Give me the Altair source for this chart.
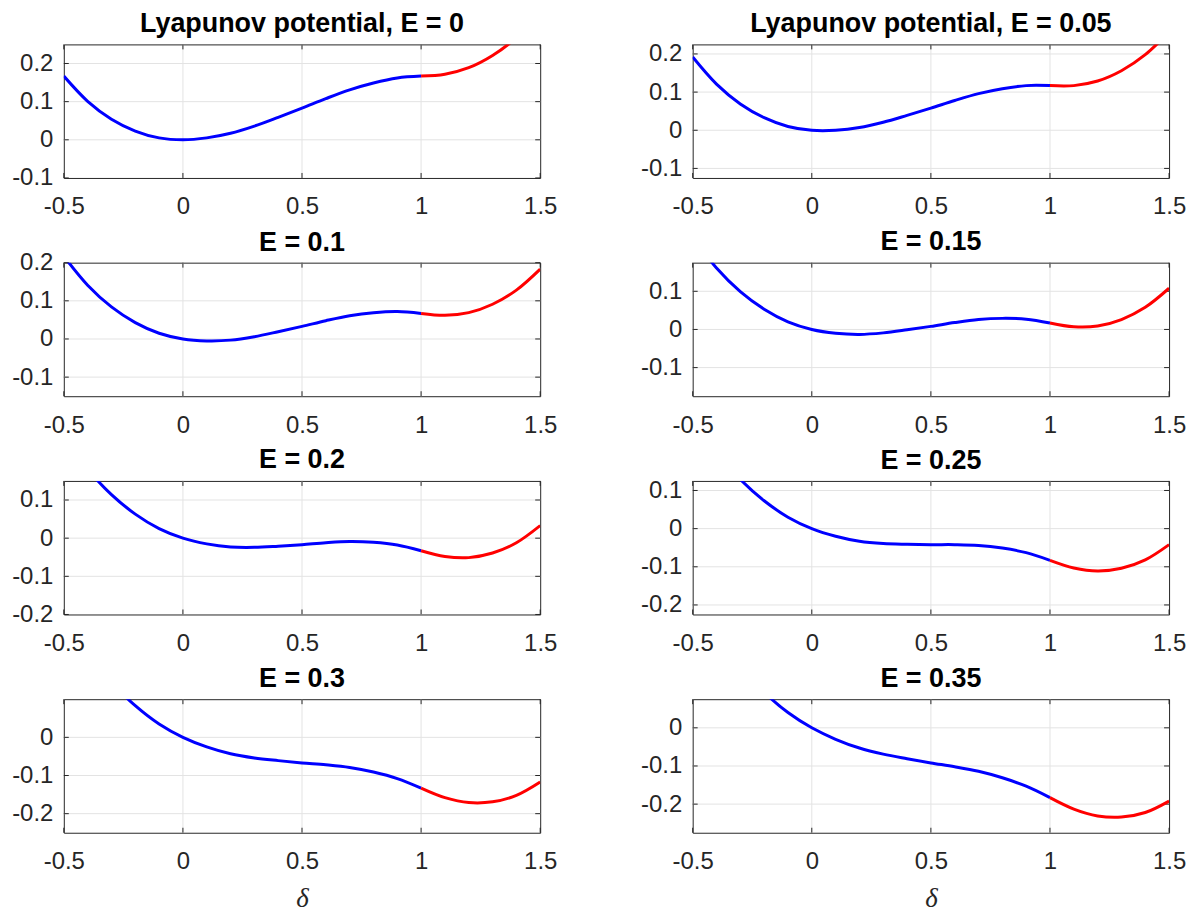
import altair as alt
import pandas as pd

# ---- data ----
DELTA_BLUE = [-0.5, -0.4, -0.3, -0.2, -0.1, 0.0, 0.1, 0.2, 0.3, 0.4, 0.5, 0.6, 0.7, 0.8, 0.9, 1.0]
DELTA_RED = [1.0, 1.1, 1.2, 1.3, 1.4, 1.5]

TITLES = ["Lyapunov potential, E = 0", "Lyapunov potential, E = 0.05",
          "E = 0.1", "E = 0.15", "E = 0.2", "E = 0.25", "E = 0.3", "E = 0.35"]

BLUE_E000 = [0.167, 0.101, 0.054, 0.023, 0.005, 0.0, 0.005, 0.017, 0.036, 0.059, 0.083, 0.108, 0.131, 0.149, 0.162, 0.167]
RED_E000 = [0.167, 0.172, 0.189, 0.221, 0.268, 0.333]
BLUE_E005 = [0.192, 0.121, 0.069, 0.033, 0.010, 0.0, -0.000, 0.007, 0.021, 0.039, 0.058, 0.078, 0.096, 0.109, 0.117, 0.117]
RED_E005 = [0.117, 0.117, 0.129, 0.156, 0.198, 0.258]
BLUE_E010 = [0.217, 0.141, 0.084, 0.043, 0.015, 0.0, -0.005, -0.003, 0.006, 0.019, 0.033, 0.048, 0.061, 0.069, 0.072, 0.067]
RED_E010 = [0.067, 0.062, 0.069, 0.091, 0.128, 0.183]
BLUE_E015 = [0.242, 0.161, 0.099, 0.053, 0.020, 0.0, -0.010, -0.013, -0.009, -0.001, 0.008, 0.018, 0.026, 0.029, 0.027, 0.017]
RED_E015 = [0.017, 0.007, 0.009, 0.026, 0.058, 0.108]
BLUE_E020 = [0.267, 0.181, 0.114, 0.063, 0.025, 0.0, -0.015, -0.023, -0.024, -0.021, -0.017, -0.012, -0.009, -0.011, -0.018, -0.033]
RED_E020 = [-0.033, -0.048, -0.051, -0.039, -0.012, 0.033]
BLUE_E025 = [0.292, 0.201, 0.129, 0.073, 0.030, 0.0, -0.020, -0.033, -0.039, -0.041, -0.042, -0.042, -0.044, -0.051, -0.063, -0.083]
RED_E025 = [-0.083, -0.103, -0.111, -0.104, -0.082, -0.042]
BLUE_E030 = [0.317, 0.221, 0.144, 0.083, 0.035, 0.0, -0.025, -0.043, -0.054, -0.061, -0.067, -0.072, -0.079, -0.091, -0.108, -0.133]
RED_E030 = [-0.133, -0.158, -0.171, -0.169, -0.152, -0.117]
BLUE_E035 = [0.342, 0.241, 0.159, 0.093, 0.040, 0.0, -0.030, -0.053, -0.069, -0.081, -0.092, -0.102, -0.114, -0.131, -0.153, -0.183]
RED_E035 = [-0.183, -0.213, -0.231, -0.234, -0.222, -0.192]

BLUES = [BLUE_E000, BLUE_E005, BLUE_E010, BLUE_E015, BLUE_E020, BLUE_E025, BLUE_E030, BLUE_E035]
REDS = [RED_E000, RED_E005, RED_E010, RED_E015, RED_E020, RED_E025, RED_E030, RED_E035]

Y_DOMAINS = [[-0.1, 0.25], [-0.125, 0.225], [-0.15, 0.2], [-0.175, 0.175],
             [-0.2, 0.15], [-0.225, 0.125], [-0.25, 0.1], [-0.275, 0.075]]
Y_TICKS = [[-0.1, 0, 0.1, 0.2], [-0.1, 0, 0.1, 0.2], [-0.1, 0, 0.1, 0.2], [-0.1, 0, 0.1],
           [-0.2, -0.1, 0, 0.1], [-0.2, -0.1, 0, 0.1], [-0.2, -0.1, 0], [-0.2, -0.1, 0]]
X_TICKS = [-0.5, 0, 0.5, 1, 1.5]
X_DOMAIN = [-0.5, 1.5]

# ---- style ----
W, H = 478, 134
TICK = 5
AXC = "#262626"
GRIDC = "#e3e3e3"
FONT = "Liberation Sans"
LABEL_SIZE = 24


def panel(i):
    lo, hi = Y_DOMAINS[i]
    xs = alt.Scale(domain=X_DOMAIN, nice=False, zero=False)
    ys = alt.Scale(domain=[lo, hi], nice=False, zero=False)
    df = pd.DataFrame({
        "d": DELTA_BLUE + DELTA_RED,
        "v": BLUES[i] + REDS[i],
        "seg": ["b"] * len(DELTA_BLUE) + ["r"] * len(DELTA_RED),
    })
    xkw = dict(values=X_TICKS, labelExpr="toString(datum.value)", grid=False, ticks=False,
               domain=False, labelFlush=False, labelOverlap=False, labelPadding=17)
    if i >= 6:
        xkw.update(title="δ", titlePadding=12)
    else:
        xkw.update(title=None)
    xaxis = alt.Axis(**xkw)
    yaxis = alt.Axis(values=Y_TICKS[i], labelExpr="toString(datum.value)", grid=False,
                     ticks=False, domain=False, labelPadding=11, labelOverlap=False, title=None)

    line = alt.Chart(df).mark_line(strokeWidth=3, clip=True, interpolate="catmull-rom").encode(
        x=alt.X("d:Q", scale=xs, axis=xaxis),
        y=alt.Y("v:Q", scale=ys, axis=yaxis),
        color=alt.Color("seg:N", scale=alt.Scale(domain=["b", "r"], range=["#0000ff", "#ff0000"]), legend=None),
    )
    gx_vals = [t for t in X_TICKS if X_DOMAIN[0] < t < X_DOMAIN[1]]
    gy_vals = [t for t in Y_TICKS[i] if lo + 1e-9 < t < hi - 1e-9]
    gx = alt.Chart(pd.DataFrame({"g": gx_vals})).mark_rule(color=GRIDC, strokeWidth=1).encode(
        x=alt.X("g:Q", scale=xs, axis=xaxis))
    gy = alt.Chart(pd.DataFrame({"g": gy_vals})).mark_rule(color=GRIDC, strokeWidth=1).encode(
        y=alt.Y("g:Q", scale=ys, axis=yaxis))
    xt = pd.DataFrame({"t": X_TICKS})
    yt = pd.DataFrame({"t": Y_TICKS[i]})
    t_top = alt.Chart(xt).mark_rule(color=AXC, strokeWidth=1).encode(
        x=alt.X("t:Q", scale=xs, axis=xaxis), y=alt.value(0), y2=alt.value(TICK))
    t_bot = alt.Chart(xt).mark_rule(color=AXC, strokeWidth=1).encode(
        x=alt.X("t:Q", scale=xs, axis=xaxis), y=alt.value(H - TICK), y2=alt.value(H))
    t_left = alt.Chart(yt).mark_rule(color=AXC, strokeWidth=1).encode(
        y=alt.Y("t:Q", scale=ys, axis=yaxis), x=alt.value(0), x2=alt.value(TICK))
    t_right = alt.Chart(yt).mark_rule(color=AXC, strokeWidth=1).encode(
        y=alt.Y("t:Q", scale=ys, axis=yaxis), x=alt.value(W - TICK), x2=alt.value(W))

    # a top y-label near the upper edge pushes the title up; push it back down
    ext = 0.49 * LABEL_SIZE - (hi - max(Y_TICKS[i])) * H / (hi - lo)
    tkw = dict(frame="group")
    if ext > 0:
        tkw["dy"] = round(ext, 1)
    return alt.layer(gx, gy, t_top, t_bot, t_left, t_right, line).properties(
        width=W, height=H, title=alt.TitleParams(TITLES[i], **tkw))


chart = alt.concat(*[panel(i) for i in range(8)], columns=2, spacing={"row": 8, "column": 82}).properties(
    padding={"left": 3, "top": 0, "right": 5, "bottom": 0}
).configure_view(
    stroke=AXC, strokeWidth=1
).configure_axis(
    labelFont=FONT, labelFontSize=LABEL_SIZE, labelColor=AXC, tickSize=0,
    titleFont="Liberation Serif", titleFontSize=27, titleFontStyle="italic",
    titleFontWeight="normal", titleColor=AXC
).configure_title(
    font=FONT, fontSize=27, fontWeight="bold", color="#000000", offset=6, anchor="middle"
)

chart.save("out.html", embed_options={"renderer": "svg", "actions": False})
